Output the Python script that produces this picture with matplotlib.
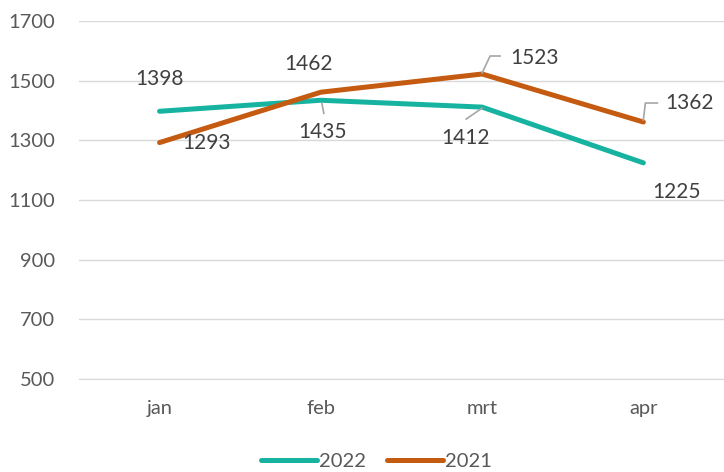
import matplotlib
matplotlib.use("Agg")
import matplotlib.pyplot as plt
from matplotlib.lines import Line2D
from matplotlib.transforms import IdentityTransform
import numpy as np

plt.rcParams['font.family'] = ['Lato', 'DejaVu Sans']

# data
months = ['jan', 'feb', 'mrt', 'apr']
vals_2022 = [1398, 1435, 1412, 1225]
vals_2021 = [1293, 1462, 1523, 1362]

teal = '#16B3A0'
orange = '#C55A11'
label_col = '#404040'
tick_col = '#595959'
grid_col = '#D9D9D9'
leader_col = '#A6A6A6'

fig = plt.figure(figsize=(7.24, 4.72), dpi=100)
ax = fig.add_axes([0.109, 0.197, 0.891, 0.758])

x = np.arange(len(months))
ax.plot(x, vals_2022, color=teal, lw=3.6, solid_capstyle='round', solid_joinstyle='round', label='2022', zorder=3)
ax.plot(x, vals_2021, color=orange, lw=3.6, solid_capstyle='round', solid_joinstyle='round', label='2021', zorder=3)

ax.set_xlim(-0.5, 3.5)
ax.set_ylim(500, 1700)
ax.set_yticks(range(500, 1701, 200))
ax.set_xticks(x)
ax.set_xticklabels(months)
ax.grid(axis='y', color=grid_col, lw=1)
ax.set_axisbelow(True)
for s in ['top', 'right', 'left']:
    ax.spines[s].set_visible(False)
ax.spines['bottom'].set_color(grid_col)
ax.tick_params(axis='both', length=0, labelsize=14.5, colors=tick_col)
ax.tick_params(axis='x', pad=15)
ax.tick_params(axis='y', pad=17)

# data labels: offsets in pixels (dx, dy up)
px = 0.72
offs_2022 = [(0, 32), (2, -32), (-17, -31), (33, -29)]
offs_2021 = [(47, 0), (-12, 28), (52, 16), (46, 19)]
for vals, offs in [(vals_2022, offs_2022), (vals_2021, offs_2021)]:
    for i, (v, (dx, dy)) in enumerate(zip(vals, offs)):
        ax.annotate(str(v), (i, v), xytext=(dx * px, dy * px), textcoords='offset points',
                    ha='center', va='center', fontsize=15, color=label_col, zorder=4)

# leader lines (pixel offsets from point)
def leader(i, v, pts):
    bx, by = ax.transData.transform((i, v))
    xs = [bx + p[0] for p in pts]
    ys = [by + p[1] for p in pts]
    fig.add_artist(Line2D(xs, ys, transform=IdentityTransform(), color=leader_col, lw=1.2, zorder=2))

leader(1, 1435, [(1, -3), (3, -13)])
leader(2, 1523, [(0, 1), (8, 18), (18, 18)])
leader(2, 1412, [(0, -1), (-16, -12)])
leader(3, 1362, [(0, 2), (2, 19), (14, 19)])

leg = fig.legend(loc='lower center', bbox_to_anchor=(0.52, -0.035), ncol=2, frameon=False,
                 fontsize=14.5, handlelength=2.8, handletextpad=0.1, columnspacing=1.0)
for t in leg.get_texts():
    t.set_color(tick_col)
for h in leg.get_lines():
    h.set_linewidth(3.6)
    h.set_solid_capstyle('round')

fig.savefig('out.png', dpi=100)
